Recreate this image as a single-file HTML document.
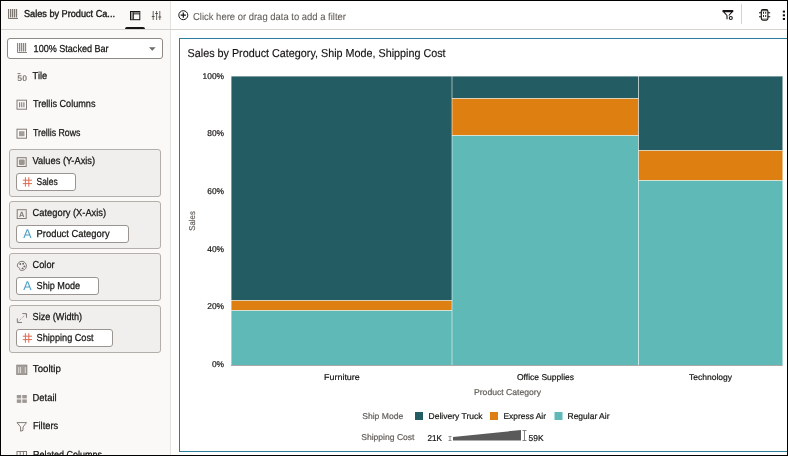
<!DOCTYPE html>
<html>
<head>
<meta charset="utf-8">
<title>Sales by Product Category</title>
<style>
html,body{margin:0;padding:0;}
body{width:788px;height:456px;overflow:hidden;background:#fff;font-family:"Liberation Sans",sans-serif;color:#161513;}
#frame{position:absolute;left:0;top:0;width:786px;height:454px;border:1px solid #000;overflow:hidden;background:#fff;}
#root{position:absolute;left:-1px;top:-1px;width:788px;height:456px;}
.abs{position:absolute;}
#left{position:absolute;left:1px;top:1px;width:169px;height:454px;background:#fbf9f8;}
#vdiv{position:absolute;left:170px;top:1px;width:1px;height:454px;background:#e4e1de;}
#hline{position:absolute;left:1px;top:29px;width:786px;height:1px;background:#d6d2ce;}
#tabline{position:absolute;left:124.5px;top:27px;width:20px;height:2px;background:#161513;border-radius:2px 2px 0 0;}
#vizsel{position:absolute;left:7px;top:38px;width:154px;height:19px;border:1px solid #8f8a85;border-radius:3px;background:#fff;}
.box{position:absolute;left:9px;width:150px;height:46px;background:#f1efed;border:1px solid #b3afab;border-radius:3px;}
.pill{position:absolute;left:16px;height:16px;background:#fff;border:1px solid #9a9590;border-radius:3px;}
#tbsep{position:absolute;left:741px;top:4px;width:1px;height:20px;background:#d6d2ce;}
#viz{position:absolute;left:179px;top:38px;width:640px;height:412px;border:1px solid #2c7d9c;background:#fff;}
svg text{font-family:"Liberation Sans",sans-serif;text-rendering:geometricPrecision;}
</style>
</head>
<body>
<div id="frame"><div id="root">
<div id="left"></div>
<div id="vdiv"></div>
<div id="hline"></div>
<div id="tabline"></div>
<div id="vizsel"></div>
<div class="box" style="top:149px"></div>
<div class="box" style="top:201px"></div>
<div class="box" style="top:253px"></div>
<div class="box" style="top:305px"></div>
<div class="pill" style="top:173px;width:58px"></div>
<div class="pill" style="top:225px;width:111px"></div>
<div class="pill" style="top:277px;width:81px"></div>
<div class="pill" style="top:329px;width:95px"></div>
<div id="tbsep"></div>
<div id="viz"></div>
<svg class="abs" style="left:0;top:0" width="788" height="456" viewBox="0 0 788 456">
<!-- left header -->
<g stroke="#7d7771" fill="none" stroke-width="1"><path d="M8.5 9V18.5H18"/><path d="M10.5 9V17.5M12.5 9V17.5M14.5 9V17.5M16.5 9V17.5" stroke-width="1.300"/></g>
<text x="24" y="17" font-size="10.0" fill="#161513" stroke="#161513" stroke-width="0.35" textLength="91" lengthAdjust="spacingAndGlyphs">Sales by Product Ca...</text>
<g stroke="#161513" fill="none" stroke-width="1"><rect x="130.500" y="11.500" width="9.300" height="8.200"/><rect x="131" y="12" width="2.200" height="7.200" fill="#a8a39e" stroke="none"/><path d="M133.300 11.500V19.700M133.300 13.800H139.800"/><rect x="133.800" y="12" width="5.500" height="1.400" fill="#8a857f" stroke="none"/></g>
<g stroke="#55504b" fill="none" stroke-width="0.900"><path d="M153.200 11V20M156.600 11V20M159.800 11V20"/><path d="M151.800 16.500H154.600M155.200 13.500H158M158.400 17H161.200" stroke-width="1.100"/></g>
<g stroke="#8a857f" fill="none" stroke-width="1"><path d="M17.5 43V52.5H27"/><path d="M19.5 43V51.5M21.5 43V51.5M23.5 43V51.5M25.5 43V51.5" stroke-width="1.300"/></g>
<text x="33.6" y="51.5" font-size="10.1" fill="#161513" stroke="#161513" stroke-width="0.25" textLength="75" lengthAdjust="spacingAndGlyphs">100% Stacked Bar</text>
<path d="M149 47.200H155.600L152.300 50.800Z" fill="#6f6a64"/>
<path d="M17.500 73.600H20.500" stroke="#827c76" stroke-width="1"/>
<text x="17.300" y="81" font-size="8.200" font-weight="bold" fill="#827c76" textLength="9.700" lengthAdjust="spacingAndGlyphs">50</text>
<text x="32.6" y="78.9" font-size="10.1" fill="#161513" stroke="#161513" stroke-width="0.25" textLength="14.5" lengthAdjust="spacingAndGlyphs">Tile</text>
<g stroke="#827c76" fill="none"><rect x="17" y="100.200" width="9.500" height="9" /><path d="M19.600 102.200V107.200M21.750 102.200V107.200M23.900 102.200V107.200" stroke-width="1.100"/></g>
<text x="33" y="107" font-size="10.1" fill="#161513" stroke="#161513" stroke-width="0.25" textLength="62.5" lengthAdjust="spacingAndGlyphs">Trellis Columns</text>
<g stroke="#827c76" fill="none"><rect x="17" y="129.200" width="9.500" height="9"/><rect x="19" y="131.200" width="5.500" height="5" fill="#a39e99" stroke="none"/></g>
<text x="33" y="136" font-size="10.1" fill="#161513" stroke="#161513" stroke-width="0.25" textLength="47.5" lengthAdjust="spacingAndGlyphs">Trellis Rows</text>
<g stroke="#827c76" fill="none"><rect x="17.200" y="157.700" width="9" height="8.800"/><rect x="18.900" y="159.400" width="5.800" height="5.500" rx="1.200" fill="#9a958f" stroke="none"/></g>
<text x="32.6" y="163.7" font-size="10.1" fill="#161513" stroke="#161513" stroke-width="0.25" textLength="62.5" lengthAdjust="spacingAndGlyphs">Values (Y-Axis)</text>
<g stroke="#827c76" fill="none"><rect x="17.200" y="209.700" width="9" height="8.800"/></g>
<text x="19" y="217.200" font-size="7.500" fill="#7d7771" font-weight="bold">A</text>
<text x="32.6" y="215.7" font-size="10.1" fill="#161513" stroke="#161513" stroke-width="0.25" textLength="73.5" lengthAdjust="spacingAndGlyphs">Category (X-Axis)</text>
<g stroke="#827c76" fill="none" stroke-width="1"><path d="M22 261.300a4.600 4.600 0 1 1 -1.500 9c-1-.3-.6-1.300-1-2.200c-.5-.9-2.200-.6-2.200-2.200a4.600 4.600 0 0 1 4.700-4.600z"/></g><g fill="#6b6661"><circle cx="20.300" cy="264" r="0.950"/><circle cx="23.200" cy="263.800" r="0.950"/><circle cx="24.400" cy="266.400" r="0.950"/><circle cx="22.600" cy="268.400" r="0.950"/></g>
<text x="32.6" y="267.7" font-size="10.1" fill="#161513" stroke="#161513" stroke-width="0.25" textLength="22" lengthAdjust="spacingAndGlyphs">Color</text>
<g stroke="#827c76" fill="none" stroke-width="1"><path d="M22.300 313.600H26.500V317.800M17.300 318.400V322.500H22"/><path d="M18.600 321.200L25.300 314.800" stroke-dasharray="1 1.200" stroke-width="0.900"/></g>
<text x="32.6" y="319.7" font-size="10.1" fill="#161513" stroke="#161513" stroke-width="0.25" textLength="49.5" lengthAdjust="spacingAndGlyphs">Size (Width)</text>
<path d="M25.400 177.2V186.7M28.800 177.2V186.7M22.800 180.2H32M22.800 183.6H32" stroke="#e06b52" stroke-width="1" fill="none"/>
<text x="36.6" y="184.9" font-size="10.1" fill="#161513" stroke="#161513" stroke-width="0.25" textLength="21" lengthAdjust="spacingAndGlyphs">Sales</text>
<text x="23.200" y="237.9" font-size="12.600" fill="#4d9fc7" textLength="8.300" lengthAdjust="spacingAndGlyphs">A</text>
<text x="36.6" y="236.9" font-size="10.1" fill="#161513" stroke="#161513" stroke-width="0.25" textLength="73" lengthAdjust="spacingAndGlyphs">Product Category</text>
<text x="23.200" y="289.9" font-size="12.600" fill="#4d9fc7" textLength="8.300" lengthAdjust="spacingAndGlyphs">A</text>
<text x="36.6" y="288.9" font-size="10.1" fill="#161513" stroke="#161513" stroke-width="0.25" textLength="43.5" lengthAdjust="spacingAndGlyphs">Ship Mode</text>
<path d="M25.400 333.2V342.7M28.800 333.2V342.7M22.800 336.2H32M22.800 339.59999999999997H32" stroke="#e06b52" stroke-width="1" fill="none"/>
<text x="36.6" y="340.9" font-size="10.1" fill="#161513" stroke="#161513" stroke-width="0.25" textLength="57" lengthAdjust="spacingAndGlyphs">Shipping Cost</text>
<rect x="16.700" y="365" width="10.300" height="9.700" fill="#a39e99" stroke="#827c76" stroke-width="0.600"/><path d="M18.700 367V373M20.500 367V373M25.300 367V373" stroke="#f3f1ef" stroke-width="0.700"/>
<text x="32.8" y="371.9" font-size="10.1" fill="#161513" stroke="#161513" stroke-width="0.25" textLength="28" lengthAdjust="spacingAndGlyphs">Tooltip</text>
<g fill="#9d9893"><rect x="16.800" y="395" width="4.400" height="3.400"/><rect x="22.300" y="395" width="4.500" height="3.400"/><rect x="16.800" y="399.400" width="4.400" height="3.500"/><rect x="22.300" y="399.400" width="4.500" height="3.500"/></g>
<text x="32.6" y="400.9" font-size="10.1" fill="#161513" stroke="#161513" stroke-width="0.25" textLength="24" lengthAdjust="spacingAndGlyphs">Detail</text>
<path d="M17 422.600H26.500L23 427V430.400L20.600 431.200V427Z" stroke="#827c76" fill="none" stroke-width="1" stroke-linejoin="round"/>
<text x="32.9" y="428.9" font-size="10.1" fill="#161513" stroke="#161513" stroke-width="0.25" textLength="25.2" lengthAdjust="spacingAndGlyphs">Filters</text>
<g stroke="#827c76" fill="none"><rect x="17" y="451.500" width="9.500" height="9"/><path d="M20.200 451.500V460M23.400 451.500V460"/></g>
<text x="32.9" y="457.7" font-size="10.1" fill="#161513" stroke="#161513" stroke-width="0.25" textLength="69" lengthAdjust="spacingAndGlyphs">Related Columns</text>
<g stroke="#161513" fill="none" stroke-width="1"><circle cx="183.300" cy="15.200" r="4.500"/><path d="M183.300 12.600V17.800M180.700 15.200H185.900" stroke-width="1.200"/></g>
<text x="193" y="20.1" font-size="10.1" fill="#625d58" stroke="#625d58" stroke-width="0.08" textLength="153" lengthAdjust="spacingAndGlyphs">Click here or drag data to add a filter</text>
<g stroke="#161513" fill="none" stroke-width="1.100" stroke-linejoin="round"><path d="M723 10.600H732.800V11.600H723ZM732.600 11.400L728.800 15.500M727 15.500L723.200 11.400M727 15.500V19.200"/><circle cx="730.800" cy="18" r="1.500"/></g>
<g stroke="#161513" fill="none" stroke-width="1.100"><rect x="761.800" y="10" width="5.600" height="1.300" fill="#8a857f" stroke="none"/><rect x="761.800" y="18.500" width="5.600" height="1.300" fill="#8a857f" stroke="none"/><rect x="761.300" y="9.600" width="6.600" height="10.600" rx="1.600"/><path d="M759 12.800H761.300M759 16.800H761.300M767.900 12.800H770.200M767.900 16.800H770.200" /><path d="M763.500 11.800V18M765.700 11.800V18" stroke-dasharray="2 1.200" stroke-width="0.900"/></g>
<g fill="#161513"><rect x="782.800" y="10.600" width="2.200" height="2"/><rect x="782.800" y="14.300" width="2.200" height="2"/><rect x="782.800" y="18" width="2.200" height="2"/></g>
<!-- chart -->
<text x="187.6" y="56.7" font-size="11.5" fill="#161513" stroke="#161513" stroke-width="0.15" textLength="258" lengthAdjust="spacingAndGlyphs">Sales by Product Category, Ship Mode, Shipping Cost</text>
<g>
<rect x="231" y="76" width="221" height="224.5" fill="#245c63"/>
<rect x="231" y="300.5" width="221" height="10.0" fill="#de7f11"/>
<rect x="231" y="310.5" width="221" height="55.0" fill="#5fb9b6"/>
<rect x="452" y="76" width="186.5" height="22.5" fill="#245c63"/>
<rect x="452" y="98.5" width="186.5" height="37.0" fill="#de7f11"/>
<rect x="452" y="135.5" width="186.5" height="230.0" fill="#5fb9b6"/>
<rect x="638.5" y="76" width="144.0" height="74.5" fill="#245c63"/>
<rect x="638.5" y="150.5" width="144.0" height="30.0" fill="#de7f11"/>
<rect x="638.5" y="180.5" width="144.0" height="185.0" fill="#5fb9b6"/>
</g>
<g stroke="#ffffff" stroke-opacity="0.55" stroke-width="1" fill="none">
<path d="M452 76V365.5M638.5 76V365.5"/>
<path d="M231 300.5H452M231 310.5H452M452 98.5H638.5M452 135.5H638.5M638.5 150.5H782.5M638.5 180.5H782.5"/>
<path d="M231 76.5H782.5M231.5 76V365.5" stroke-opacity="0.4"/>
</g>
<path d="M231 365.5H782.5" stroke="#a9a9a9" stroke-width="1"/>
<text x="224" y="78.6" font-size="8.400" fill="#161513" stroke="#161513" stroke-width="0.200" text-anchor="end">100%</text>
<text x="224" y="136.3" font-size="8.400" fill="#161513" stroke="#161513" stroke-width="0.200" text-anchor="end">80%</text>
<text x="224" y="194.0" font-size="8.400" fill="#161513" stroke="#161513" stroke-width="0.200" text-anchor="end">60%</text>
<text x="224" y="251.7" font-size="8.400" fill="#161513" stroke="#161513" stroke-width="0.200" text-anchor="end">40%</text>
<text x="224" y="309.4" font-size="8.400" fill="#161513" stroke="#161513" stroke-width="0.200" text-anchor="end">20%</text>
<text x="224" y="367.1" font-size="8.400" fill="#161513" stroke="#161513" stroke-width="0.200" text-anchor="end">0%</text>
<text transform="translate(195.200,230.700) rotate(-90)" font-size="8.500" fill="#625d58" stroke="#625d58" stroke-width="0.200" textLength="19.500" lengthAdjust="spacingAndGlyphs">Sales</text>
<text x="324" y="380" font-size="8.5" fill="#161513" stroke="#161513" stroke-width="0.2" textLength="35.8" lengthAdjust="spacingAndGlyphs">Furniture</text>
<text x="517" y="380" font-size="8.5" fill="#161513" stroke="#161513" stroke-width="0.2" textLength="57" lengthAdjust="spacingAndGlyphs">Office Supplies</text>
<text x="689" y="380" font-size="8.5" fill="#161513" stroke="#161513" stroke-width="0.2" textLength="43" lengthAdjust="spacingAndGlyphs">Technology</text>
<text x="474" y="395" font-size="8.5" fill="#625d58" stroke="#625d58" stroke-width="0.2" textLength="67" lengthAdjust="spacingAndGlyphs">Product Category</text>
<text x="362.2" y="419" font-size="8.5" fill="#625d58" stroke="#625d58" stroke-width="0.2" textLength="41" lengthAdjust="spacingAndGlyphs">Ship Mode</text>
<rect x="415" y="412" width="8" height="8" fill="#245c63"/><rect x="490" y="412" width="8" height="8" fill="#de7f11"/><rect x="554.500" y="412" width="8" height="8" fill="#5fb9b6"/>
<text x="428.5" y="419" font-size="8.5" fill="#161513" stroke="#161513" stroke-width="0.2" textLength="54" lengthAdjust="spacingAndGlyphs">Delivery Truck</text>
<text x="503.5" y="419" font-size="8.5" fill="#161513" stroke="#161513" stroke-width="0.2" textLength="42.5" lengthAdjust="spacingAndGlyphs">Express Air</text>
<text x="567.5" y="419" font-size="8.5" fill="#161513" stroke="#161513" stroke-width="0.2" textLength="42" lengthAdjust="spacingAndGlyphs">Regular Air</text>
<text x="361.2" y="440" font-size="8.5" fill="#625d58" stroke="#625d58" stroke-width="0.2" textLength="53.3" lengthAdjust="spacingAndGlyphs">Shipping Cost</text>
<text x="427.5" y="441" font-size="8.5" fill="#161513" stroke="#161513" stroke-width="0.2" textLength="14.5" lengthAdjust="spacingAndGlyphs">21K</text>
<text x="528.5" y="441" font-size="8.5" fill="#161513" stroke="#161513" stroke-width="0.2" textLength="15" lengthAdjust="spacingAndGlyphs">59K</text>
<polygon points="453,440.500 453,437 521,430 521,440.500" fill="#5a5a5a"/>
<path d="M448.500 436.500H451.500M450 436.500V440.500M448.500 440.500H451.500" stroke="#777" stroke-width="0.800" fill="none"/>
<path d="M522.500 430.500H526.500M524.500 430.500V440.500M522.500 440.500H526.500" stroke="#777" stroke-width="0.900" fill="none"/>
</svg>
</div></div>
</body>
</html>
